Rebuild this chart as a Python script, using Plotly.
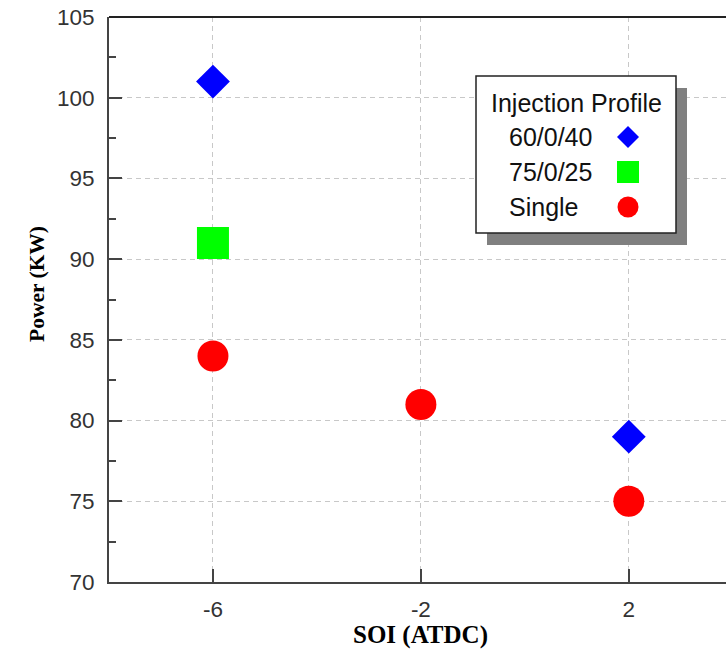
import plotly.graph_objects as go

# ---- data ----
profiles = ["60/0/40", "75/0/25", "Single"]
soi_6040 = [-6, 2]
power_6040 = [101, 79]
soi_7525 = [-6]
power_7525 = [91]
soi_single = [-6, -2, 2]
power_single = [84, 81, 75]
x_ticks = [-6, -2, 2]
y_ticks = [70, 75, 80, 85, 90, 95, 100, 105]

colors = ["#0000FF", "#00FF00", "#FF0000"]
symbols = ["diamond", "square", "circle"]
sizes = [26, 32, 31]

W, H = 726, 663
L, R, T, B = 109, 0, 17, 81
PW, PH = W - L - R, H - T - B

def px(x):
    return (x - L) / PW

def py(y):
    return (H - B - y) / PH

fig = go.Figure()
series = [(soi_6040, power_6040), (soi_7525, power_7525), (soi_single, power_single)]
for (xs, ys), name, c, s, sz in zip(series, profiles, colors, symbols, sizes):
    fig.add_trace(go.Scatter(x=xs, y=ys, mode="markers", name=name, showlegend=False,
                             marker=dict(color=c, symbol=s, size=sz, line=dict(width=0)),
                             cliponaxis=False))

tickfont = dict(family="Liberation Sans, Arial, sans-serif", size=22.5, color="#333333")
grid = dict(showgrid=True, gridcolor="#c8c8c8", gridwidth=1, griddash="5px,4px")

fig.update_xaxes(range=[-8.0, 3.87], tickvals=x_ticks, ticktext=[str(v) for v in x_ticks],
                 ticks="inside", ticklen=13, tickwidth=2, tickcolor="#444444",
                 showline=True, linecolor="#444444", linewidth=2, mirror=False,
                 tickfont=tickfont, ticklabelstandoff=6, zeroline=False, **grid)
fig.update_yaxes(range=[70, 105], tickvals=y_ticks, ticktext=[str(v) for v in y_ticks],
                 ticks="inside", ticklen=13, tickwidth=2, tickcolor="#444444",
                 showline=True, linecolor="#444444", linewidth=2, mirror=False,
                 minor=dict(tick0=70, dtick=2.5, ticks="inside", ticklen=7, tickwidth=2,
                            tickcolor="#444444", showgrid=False),
                 tickfont=tickfont, ticklabelstandoff=8, zeroline=False, **grid)

# axis titles
fig.add_annotation(text="<b>SOI (ATDC)</b>", xref="paper", yref="paper",
                   x=px(421), y=py(651), showarrow=False,
                   font=dict(family="Liberation Serif, Times New Roman, serif", size=25, color="#000"))
fig.add_annotation(text="<b>Power (KW)</b>", xref="paper", yref="paper",
                   x=px(23), y=py(284), showarrow=False, textangle=-90,
                   font=dict(family="Liberation Serif, Times New Roman, serif", size=21.5, color="#000"))

shapes = []
# top frame line
shapes.append(dict(type="line", xref="paper", yref="paper", x0=0, x1=1, y0=1, y1=1,
                   line=dict(color="#222222", width=2), layer="above"))

# ---- custom legend (label left, symbol right) ----
shapes.append(dict(type="rect", xref="paper", yref="paper", x0=px(487), x1=px(687),
                   y0=py(245), y1=py(88), fillcolor="#808080", line=dict(width=0), layer="above"))
shapes.append(dict(type="rect", xref="paper", yref="paper", x0=px(476), x1=px(676),
                   y0=py(233), y1=py(76), fillcolor="white", line=dict(color="#222", width=1.5),
                   layer="above"))
legfont = dict(family="Liberation Sans, Arial, sans-serif", size=25, color="#111")
fig.add_annotation(text="Injection Profile", xref="paper", yref="paper", x=px(576), y=py(103),
                   showarrow=False, font=legfont, xanchor="center", yanchor="middle")
row_y = [137, 172, 207]
mx = 628
for name, c, s, ry in zip(profiles, colors, symbols, row_y):
    fig.add_annotation(text=name, xref="paper", yref="paper", x=px(507), y=py(ry),
                       showarrow=False, font=legfont, xanchor="left", yanchor="middle")
    if s == "diamond":
        r = 11
        path = (f"M {px(mx-r)},{py(ry)} L {px(mx)},{py(ry-r)} L {px(mx+r)},{py(ry)} "
                f"L {px(mx)},{py(ry+r)} Z")
        shapes.append(dict(type="path", xref="paper", yref="paper", path=path,
                           fillcolor=c, line=dict(width=0), layer="above"))
    elif s == "square":
        r = 11
        shapes.append(dict(type="rect", xref="paper", yref="paper", x0=px(mx-r), x1=px(mx+r),
                           y0=py(ry+r), y1=py(ry-r), fillcolor=c, line=dict(width=0), layer="above"))
    else:
        r = 10.5
        shapes.append(dict(type="circle", xref="paper", yref="paper", x0=px(mx-r), x1=px(mx+r),
                           y0=py(ry+r), y1=py(ry-r), fillcolor=c, line=dict(width=0), layer="above"))

fig.update_layout(width=W, height=H, margin=dict(l=L, r=R, t=T, b=B, pad=0),
                  plot_bgcolor="white", paper_bgcolor="rgba(0,0,0,0)", shapes=shapes, showlegend=False)

fig.write_html("out.html", config={"displayModeBar": False})
